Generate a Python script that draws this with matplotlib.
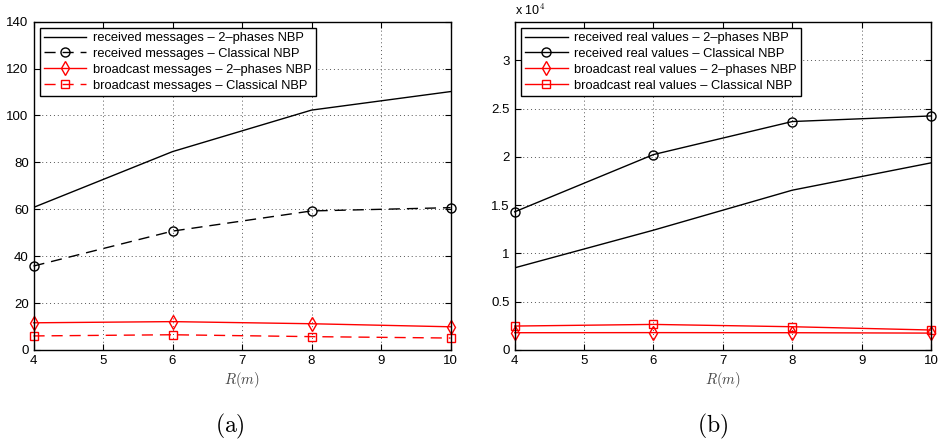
import matplotlib
matplotlib.use("Agg")
import matplotlib.pyplot as plt

plt.rcParams['font.family'] = ['Liberation Sans', 'DejaVu Sans']
plt.rcParams['mathtext.fontset'] = 'cm'

R = [4, 6, 8, 10]

# (a) messages
recv_msg_2ph = [60.8, 84.6, 102.3, 110.2]
recv_msg_cls = [35.8, 50.7, 59.3, 60.7]
bc_msg_2ph = [11.6, 12.1, 11.2, 9.9]
bc_msg_cls = [6.0, 6.5, 5.7, 5.1]

# (b) real values
recv_val_2ph = [8510, 12410, 16550, 19380]
recv_val_cls = [14310, 20240, 23660, 24240]
bc_val_2ph = [1790, 1800, 1790, 1750]
bc_val_cls = [2480, 2650, 2410, 2070]

labels_a = ["received messages \u2013 2\u2013phases NBP",
            "received messages \u2013 Classical NBP",
            "broadcast messages \u2013 2\u2013phases NBP",
            "broadcast messages \u2013 Classical NBP"]
labels_b = ["received real values \u2013 2\u2013phases NBP",
            "received real values \u2013 Classical NBP",
            "broadcast real values \u2013 2\u2013phases NBP",
            "broadcast real values \u2013 Classical NBP"]

W, H = 938, 441
fig = plt.figure(figsize=(W / 100, H / 100), dpi=100)

def ax_rect(l, r, t, b):
    return [l / W, 1 - b / H, (r - l) / W, (b - t) / H]

ax1 = fig.add_axes(ax_rect(33.5, 450.5, 21.7, 350))
ax2 = fig.add_axes(ax_rect(514.7, 931, 21.7, 350))

lw = 1.0
ms = 6.5
dash = (0, (8, 5))

ax1.plot(R, recv_msg_2ph, color='black', lw=lw, label=labels_a[0])
ax1.plot(R, recv_msg_cls, color='black', lw=lw, ls=dash, marker='o', ms=ms,
         mfc='none', mew=1.0, label=labels_a[1], clip_on=False)
ax1.plot(R, bc_msg_2ph, color='red', lw=lw, marker='d', ms=ms + 1,
         mfc='none', mew=1.0, label=labels_a[2], clip_on=False)
ax1.plot(R, bc_msg_cls, color='red', lw=lw, ls=dash, marker='s', ms=ms - 0.5,
         mfc='none', mew=1.0, label=labels_a[3], clip_on=False)
ax1.set_ylim(0, 140)
ax1.set_yticks(range(0, 141, 20))

ax2.plot(R, recv_val_2ph, color='black', lw=lw, label=labels_b[0])
ax2.plot(R, recv_val_cls, color='black', lw=lw, marker='o', ms=ms,
         mfc='none', mew=1.0, label=labels_b[1], clip_on=False)
ax2.plot(R, bc_val_2ph, color='red', lw=lw, marker='d', ms=ms + 1,
         mfc='none', mew=1.0, label=labels_b[2], clip_on=False)
ax2.plot(R, bc_val_cls, color='red', lw=lw, marker='s', ms=ms - 0.5,
         mfc='none', mew=1.0, label=labels_b[3], clip_on=False)
ax2.set_ylim(0, 34000)
yt = [0, 5000, 10000, 15000, 20000, 25000, 30000]
ax2.set_yticks(yt)
ax2.set_yticklabels(["0", "0.5", "1", "1.5", "2", "2.5", "3"])
ax2.text(0.0, 1.012, r"x 10$^{4}$", transform=ax2.transAxes, fontsize=9,
         ha='left', va='bottom')

for ax, cap, cx in ((ax1, "(a)", 0.472), (ax2, "(b)", 0.476)):
    ax.set_xlim(4, 10)
    ax.set_xticks(range(4, 11))
    ax.grid(True, ls=(0, (1, 3)), color='#555555', lw=0.7)
    ax.tick_params(direction='in', top=True, right=True, labelsize=9.5,
                   length=4, width=0.8)
    for s in ax.spines.values():
        s.set_linewidth(1.0)
        s.set_zorder(5)
    ax.set_xlabel(r"$R(m)$", fontsize=10.5, color='#444444', labelpad=2)
    leg = ax.legend(loc='upper left', fontsize=9.3, frameon=True, fancybox=False,
                    edgecolor='black', framealpha=1, borderpad=0.3,
                    labelspacing=0.3, handlelength=3.3, handletextpad=0.5,
                    borderaxespad=0.5)
    leg.get_frame().set_linewidth(1.0)
    ax.text(cx, -0.19, r"$\mathrm{" + cap + "}$", transform=ax.transAxes,
            ha='center', va='top', fontsize=17)

fig.savefig("out.png", dpi=100)
